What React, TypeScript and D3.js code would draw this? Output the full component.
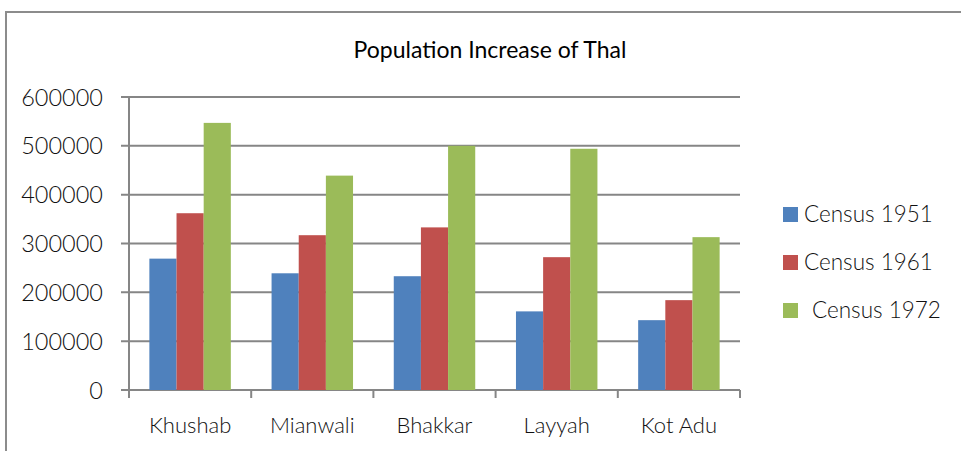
import { useEffect, useRef } from 'react';
import * as d3 from 'd3';

const districts = ['Khushab', 'Mianwali', 'Bhakkar', 'Layyah', 'Kot Adu'];
const seriesNames = ['Census 1951', 'Census 1961', 'Census 1972'];
const census1951 = [269000, 239000, 233000, 161000, 143000];
const census1961 = [362000, 317000, 333000, 272000, 184000];
const census1972 = [547000, 439000, 500000, 494000, 313000];
const yTicks = [0, 100000, 200000, 300000, 400000, 500000, 600000];
const colors = ['#4F81BD', '#C0504D', '#9BBB59'];

export default function App() {
  const ref = useRef<SVGSVGElement>(null);

  useEffect(() => {
    if (!ref.current) return;
    const svg = d3.select(ref.current);
    svg.selectAll('*').remove();

    const width = 961;
    const height = 451;
    const left = 129, right = 740, top = 97, bottom = 390;
    const font = 'Lato, "Open Sans", sans-serif';
    const series = [census1951, census1961, census1972];

    svg.attr('width', width).attr('height', height);

    // outer chart frame
    svg.append('rect')
      .attr('x', 6).attr('y', 12)
      .attr('width', 980).attr('height', 480)
      .attr('fill', 'white')
      .attr('stroke', '#8c8c8c')
      .attr('stroke-width', 2);

    const x = d3.scaleBand().domain(districts).range([left, right]).paddingInner(0).paddingOuter(0);
    const barW = x.bandwidth() / 4.5;
    const y = d3.scaleLinear().domain([0, 600000]).range([bottom, top]);

    // gridlines
    svg.append('g')
      .selectAll('line')
      .data(yTicks)
      .join('line')
      .attr('x1', left - 8).attr('x2', right)
      .attr('y1', d => y(d)).attr('y2', d => y(d))
      .attr('stroke', '#868686')
      .attr('stroke-width', 2);

    // y axis line
    svg.append('line')
      .attr('x1', left).attr('x2', left)
      .attr('y1', top).attr('y2', bottom + 8)
      .attr('stroke', '#868686').attr('stroke-width', 2);

    // category ticks
    const tickXs = districts.map(d => x(d)!).concat([right]);
    svg.append('g')
      .selectAll('line')
      .data(tickXs)
      .join('line')
      .attr('x1', d => d).attr('x2', d => d)
      .attr('y1', bottom).attr('y2', bottom + 8)
      .attr('stroke', '#868686').attr('stroke-width', 2);

    // bars
    series.forEach((vals, si) => {
      svg.append('g')
        .selectAll('rect')
        .data(vals)
        .join('rect')
        .attr('x', (_, i) => x(districts[i])! + barW * 0.75 + si * barW)
        .attr('width', barW)
        .attr('y', d => y(d))
        .attr('height', d => bottom - y(d))
        .attr('fill', colors[si]);
    });

    // y tick labels
    svg.append('g')
      .selectAll('text')
      .data(yTicks)
      .join('text')
      .attr('x', 103)
      .attr('y', d => y(d) + 8.5)
      .attr('text-anchor', 'end')
      .style('font-family', font)
      .style('font-size', '23.5px')
      .style('font-weight', 300)
      .style('fill', '#111')
      .text(d => String(d));

    // x labels
    svg.append('g')
      .selectAll('text')
      .data(districts)
      .join('text')
      .attr('x', d => x(d)! + x.bandwidth() / 2)
      .attr('y', 433)
      .attr('text-anchor', 'middle')
      .style('font-family', font)
      .style('font-size', '22px')
      .style('font-weight', 300)
      .style('fill', '#111')
      .text(d => d);

    // title
    svg.append('text')
      .attr('x', 490)
      .attr('y', 58)
      .attr('text-anchor', 'middle')
      .style('font-family', font)
      .style('font-size', '23px')
      .style('fill', '#000')
      .text('Population Increase of Thal');

    // legend
    const legend = svg.append('g');
    seriesNames.forEach((name, i) => {
      const ly = 207 + i * 48;
      legend.append('rect')
        .attr('x', 783).attr('y', ly)
        .attr('width', 15).attr('height', 15)
        .attr('fill', colors[i]);
      legend.append('text')
        .attr('x', i === 2 ? 812 : 804)
        .attr('y', ly + 15)
        .style('font-family', font)
        .style('font-size', '22.5px')
        .style('font-weight', 300)
        .style('fill', '#111')
        .text(name);
    });
  }, []);

  return (
    <div style={{ position: 'absolute', left: 0, top: 0 }}>
      <svg ref={ref}></svg>
    </div>
  );
}
